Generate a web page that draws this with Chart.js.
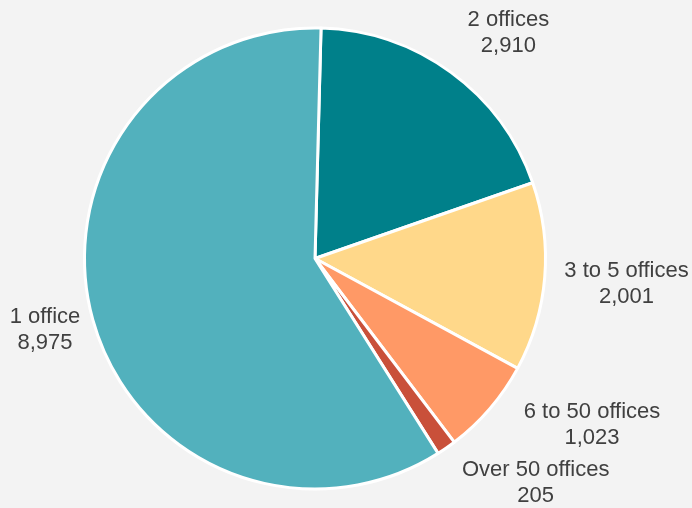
<!DOCTYPE html>
<html>
<head>
<meta charset="utf-8">
<script src="https://cdn.jsdelivr.net/npm/chart.js@4/dist/chart.umd.min.js"></script>
<style>
  html, body { margin: 0; padding: 0; background: #f3f3f3; }
  #wrap { width: 692px; height: 508px; }
</style>
</head>
<body>
<div id="wrap"><canvas id="chart" width="692" height="508"></canvas></div>
<script>
const categories = ['2 offices', '3 to 5 offices', '6 to 50 offices', 'Over 50 offices', '1 office'];
const values = [2910, 2001, 1023, 205, 8975];
const colors = ['#00808a', '#ffd88a', '#ff9966', '#c9503a', '#52b1bd'];

// outside labels: name on first line, value below
const outsideLabels = {
  id: 'outsideLabels',
  afterDatasetsDraw(chart, args, opts) {
    const ctx = chart.ctx;
    const meta = chart.getDatasetMeta(0);
    ctx.save();
    ctx.font = opts.font;
    ctx.fillStyle = opts.color;
    ctx.textAlign = 'center';
    ctx.textBaseline = 'middle';
    meta.data.forEach((arc, i) => {
      const p = arc.getProps(['x', 'y', 'startAngle', 'endAngle', 'outerRadius'], true);
      const name = chart.data.labels[i];
      const val = chart.data.datasets[0].data[i].toLocaleString('en-US');
      const ang = (p.startAngle + p.endAngle) / 2 + (opts.nudge[i] || 0) * Math.PI / 180;
      const w = Math.max(ctx.measureText(name).width, ctx.measureText(val).width) / 2;
      const h = opts.lineHeight;
      const c = Math.cos(ang), s = Math.sin(ang);
      const d = p.outerRadius + opts.gap[i] + Math.abs(c) * w + Math.abs(s) * h;
      const x = p.x + c * d, y = p.y + s * d;
      ctx.fillText(name, x, y - h / 2);
      ctx.fillText(val, x, y + h / 2);
    });
    ctx.restore();
  }
};

new Chart(document.getElementById('chart'), {
  type: 'pie',
  data: {
    labels: categories,
    datasets: [{
      data: values,
      backgroundColor: colors,
      borderColor: '#ffffff',
      borderWidth: 3
    }]
  },
  options: {
    responsive: false,
    animation: false,
    rotation: 1.5,
    layout: { padding: { top: 26, bottom: 17, left: 83, right: 145 } },
    plugins: {
      legend: { display: false },
      tooltip: { enabled: false },
      outsideLabels: {
        font: '22px "Liberation Sans", Arial, sans-serif',
        color: '#404040',
        lineHeight: 26,
        nudge: [4.5, 0, -9.6, -9.8, 0.6],
        gap: [20, 18, 21, 14, 8]
      }
    }
  },
  plugins: [outsideLabels]
});
</script>
</body>
</html>
